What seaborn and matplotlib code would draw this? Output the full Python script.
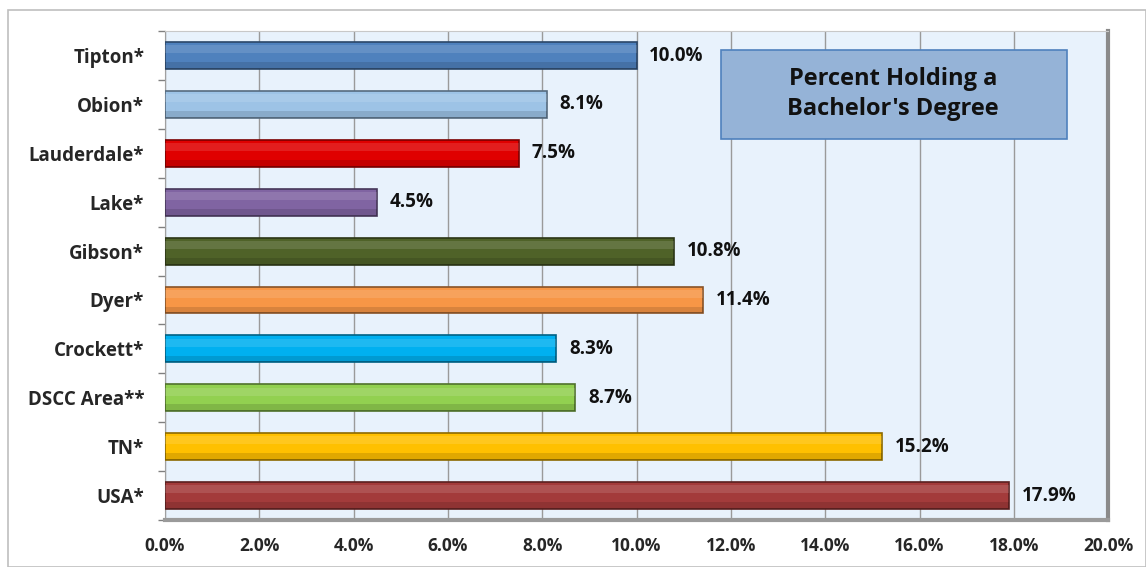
import matplotlib
matplotlib.use("Agg")
import matplotlib.pyplot as plt
import matplotlib.patches as mpatches
import seaborn as sns
import numpy as np
import pandas as pd

# Data
categories = ["Tipton*", "Obion*", "Lauderdale*", "Lake*", "Gibson*", "Dyer*",
              "Crockett*", "DSCC Area**", "TN*", "USA*"]
values = [10.0, 8.1, 7.5, 4.5, 10.8, 11.4, 8.3, 8.7, 15.2, 17.9]
colors = ["#4F81BD", "#9DC3E6", "#E00000", "#8064A2", "#4F6228", "#F79646",
          "#00B0F0", "#92D050", "#FFC000", "#A33B3B"]
xticks = [0, 2, 4, 6, 8, 10, 12, 14, 16, 18, 20]
title_text = "Percent Holding a\nBachelor's Degree"

df = pd.DataFrame({"cat": categories, "val": values})

sns.set_style("white")
plt.rcParams["font.family"] = ["Open Sans", "DejaVu Sans"]
plt.rcParams["font.weight"] = "bold"

fig = plt.figure(figsize=(11.46, 5.67), dpi=100)
ax = fig.add_axes([0.144, 0.083, 0.823, 0.862])

# outer chart frame
fig.patches.append(mpatches.Rectangle((8 / 1146, 0), 1 - 8 / 1146, 1 - 10 / 567,
                                      transform=fig.transFigure, fill=False,
                                      edgecolor="#BFBFBF", lw=1.2, zorder=0))

sns.barplot(data=df, x="val", y="cat", hue="cat", palette=colors, legend=False,
            orient="h", width=0.55, ax=ax, saturation=1, zorder=3)

# darker edges and soft shading to mimic the bevel
for patch, c in zip(list(ax.patches), colors):
    rgb = np.array(matplotlib.colors.to_rgb(c))
    patch.set_edgecolor(rgb * 0.55)
    patch.set_linewidth(1.2)
    x0, y0 = patch.get_x(), patch.get_y()
    w, h = patch.get_width(), patch.get_height()
    ax.add_patch(mpatches.Rectangle((x0, y0 + h * 0.12), w, h * 0.3,
                                    facecolor="white", alpha=0.12, lw=0, zorder=4))
    ax.add_patch(mpatches.Rectangle((x0, y0 + h * 0.75), w, h * 0.25,
                                    facecolor="black", alpha=0.12, lw=0, zorder=4))

for i, v in enumerate(values):
    ax.text(v + 0.27, i, f"{v:.1f}%", va="center", ha="left",
            fontsize=13.5, fontweight="bold", color="#111111", zorder=5)

ax.set_xlim(0, 20)
ax.set_ylim(len(categories) - 0.5, -0.5)
ax.set_xticks(xticks)
ax.set_xticklabels([f"{t:.1f}%" for t in xticks], fontsize=12.5, fontweight="bold")
ax.tick_params(axis="x", length=0, pad=12)
ax.tick_params(axis="y", which="major", length=0, labelsize=13.5, pad=15)
ax.set_yticks(np.arange(-0.5, len(categories), 1), minor=True)
ax.tick_params(axis="y", which="minor", left=True, length=5, width=1,
               color="#808080", direction="out")
ax.set_xlabel("")
ax.set_ylabel("")
for lab in ax.get_yticklabels():
    lab.set_fontweight("bold")

ax.set_facecolor("#E8F2FC")
ax.grid(axis="x", color="#9A9A9A", lw=1, zorder=1)
ax.set_axisbelow(True)
ax.spines["left"].set_color("#A0A0A0")
ax.spines["top"].set_color("#C8C8C8")
ax.spines["right"].set_color("#8A8A8A")
ax.spines["right"].set_linewidth(3)
ax.spines["bottom"].set_color("#9A9A9A")
ax.spines["bottom"].set_linewidth(3)

# title box
ax.add_patch(mpatches.Rectangle((0.589, 0.780), 0.367, 0.181, transform=ax.transAxes,
                                facecolor="#95B3D7", edgecolor="#4F81BD", lw=1.2,
                                zorder=6))
ax.text(0.772, 0.871, title_text, transform=ax.transAxes, ha="center", va="center",
        fontsize=17, fontweight="bold", color="#111111", linespacing=1.35, zorder=7)

fig.savefig("out.png", dpi=100)
